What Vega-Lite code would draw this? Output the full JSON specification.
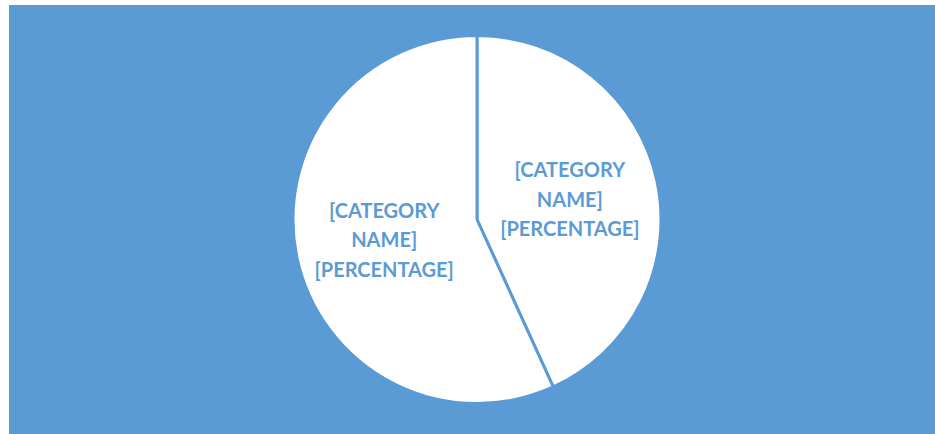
{
  "$schema": "https://vega.github.io/schema/vega-lite/v6.json",
  "width": 935,
  "height": 434,
  "autosize": {"type": "fit", "contains": "padding"},
  "padding": {"left": 9, "top": 5, "right": 0, "bottom": 0},
  "background": "white",
  "view": {"fill": "#5B9BD5", "stroke": null},
  "data": {
    "values": [
      {"category": "A", "value": 43.2, "label": "[CATEGORY\nNAME]\n[PERCENTAGE]"},
      {"category": "B", "value": 56.8, "label": "[CATEGORY\nNAME]\n[PERCENTAGE]"}
    ]
  },
  "encoding": {
    "theta": {"field": "value", "type": "quantitative", "stack": true},
    "order": {"field": "category", "type": "ordinal"}
  },
  "layer": [
    {
      "mark": {"type": "arc", "outerRadius": 184, "fill": "white", "stroke": "#5B9BD5", "strokeWidth": 3, "xOffset": 5}
    },
    {
      "mark": {"type": "text", "radius": 95, "xOffset": 5, "dy": -28, "font": "Lato", "fontWeight": "bold", "fontSize": 20, "lineBreak": "\n", "lineHeight": 29.5, "color": "#5B9BD5", "align": "center", "baseline": "middle"},
      "encoding": {"text": {"field": "label"}}
    }
  ]
}
